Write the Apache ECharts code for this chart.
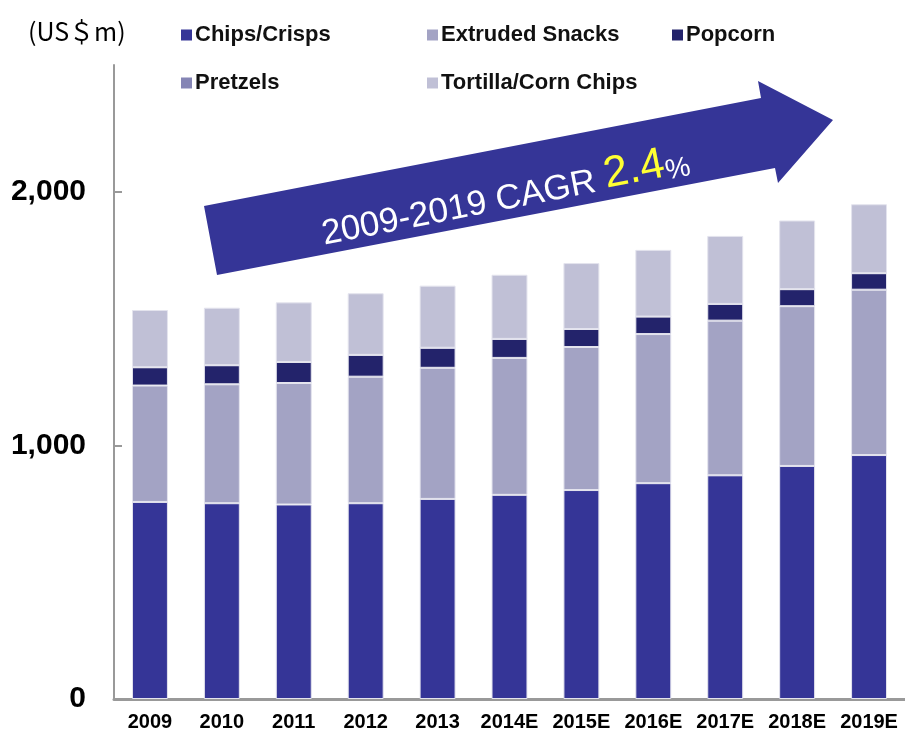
<!DOCTYPE html>
<html>
<head>
<meta charset="utf-8">
<script src="https://cdn.jsdelivr.net/npm/echarts@6/dist/echarts.min.js"></script>
<style>
  html, body { margin: 0; padding: 0; background: #fff; }
  #chart { width: 905px; height: 737px; }
</style>
</head>
<body>
<div id="chart"></div>
<script>
// years on the x axis
var years = ['2009', '2010', '2011', '2012', '2013', '2014E', '2015E', '2016E', '2017E', '2018E', '2019E'];

// US$m
var chipsCrisps = [777, 772, 767, 772, 789, 805, 824, 851, 882, 919, 962];
var extrudedSnacks = [459, 469, 479, 499, 517, 540, 564, 588, 610, 630, 652];
var popcorn = [72, 75, 83, 86, 79, 75, 71, 69, 66, 67, 65];
var pretzels = [0, 0, 0, 0, 0, 0, 0, 0, 0, 0, 0];
var tortillaCornChips = [226, 227, 235, 243, 245, 253, 260, 263, 268, 271, 272];

var yTicks = [0, 1000, 2000];

var sans = "'Liberation Sans', Arial, sans-serif";

var myChart = echarts.init(document.getElementById('chart'));

function seriesOf (name, values, color) {
  return {
    name: name,
    type: 'bar',
    stack: 'total',
    barWidth: '50%',
    data: values,
    itemStyle: { color: color, borderColor: '#e4e4ee', borderWidth: 1 }
  }
}

function legendAt (name, left, top) {
  return {
    data: [name],
    left: left,
    top: top,
    padding: 0,
    icon: 'rect',
    itemWidth: 11,
    itemHeight: 11,
    itemGap: 0,
    selectedMode: false,
    itemStyle: { borderWidth: 0 },
    textStyle: { fontFamily: sans, fontWeight: 'bold', fontSize: 22, color: '#111', padding: [0, 0, 0, -2] }
  }
}

var option = {
  animation: false,
  title: {
    text: '(US＄m)',
    left: 23,
    top: 14,
    textStyle: { fontFamily: "'Noto Sans CJK JP', sans-serif", fontWeight: 'normal', fontSize: 25, color: '#000' }
  },
  legend: [
    legendAt('Chips/Crisps', 181, 24),
    legendAt('Extruded Snacks', 427, 24),
    legendAt('Popcorn', 672, 24),
    legendAt('Pretzels', 181, 72),
    legendAt('Tortilla/Corn Chips', 427, 72)
  ],
  grid: { left: 114, right: 0, top: 65, bottom: 38, containLabel: false, outerBoundsMode: 'none' },
  xAxis: {
    type: 'category',
    data: years,
    axisLine: { lineStyle: { color: '#999', width: 3 } },
    axisTick: { inside: true, length: 6, lineStyle: { color: '#999', width: 1 } },
    axisLabel: { interval: 0, margin: 13, fontFamily: sans, fontWeight: 'bold', fontSize: 20, color: '#000' }
  },
  yAxis: {
    type: 'value',
    min: 0,
    max: 2500,
    interval: 1000,
    splitLine: { show: false },
    axisLine: { show: true, lineStyle: { color: '#999', width: 2 } },
    axisTick: { show: true, inside: true, length: 8, lineStyle: { color: '#999', width: 2 } },
    axisLabel: {
      margin: 28,
      showMaxLabel: false,
      fontFamily: sans,
      fontWeight: 'bold',
      fontSize: 30,
      color: '#000',
      formatter: function (v) {
        return yTicks.indexOf(v) >= 0 ? v.toLocaleString('en-US') : ''
      }
    }
  },
  graphic: [
    {
      type: 'polygon',
      shape: {
        points: [[204, 206], [761, 98], [758, 81], [833, 120], [778, 183], [775, 168], [217, 275]]
      },
      style: { fill: '#353597' },
      z: 10
    },
    {
      type: 'text',
      x: 505,
      y: 195,
      rotation: 11 * Math.PI / 180,
      z: 11,
      style: {
        text: '{w|2009-2019 CAGR }{y|2.4}{p|%}',
        align: 'center',
        verticalAlign: 'middle',
        rich: {
          w: { fontFamily: sans, fontSize: 35, fill: '#fff', verticalAlign: 'bottom' },
          y: { fontFamily: sans, fontSize: 44, fill: '#ffff33', verticalAlign: 'bottom' },
          p: { fontFamily: sans, fontSize: 28, fill: '#fff', verticalAlign: 'bottom' }
        }
      }
    }
  ],
  series: [
    seriesOf('Chips/Crisps', chipsCrisps, '#353597'),
    seriesOf('Extruded Snacks', extrudedSnacks, '#a3a3c4'),
    seriesOf('Popcorn', popcorn, '#23236b'),
    seriesOf('Pretzels', pretzels, '#8585b5'),
    seriesOf('Tortilla/Corn Chips', tortillaCornChips, '#c0c0d6')
  ]
}

myChart.setOption(option)
</script>
</body>
</html>
